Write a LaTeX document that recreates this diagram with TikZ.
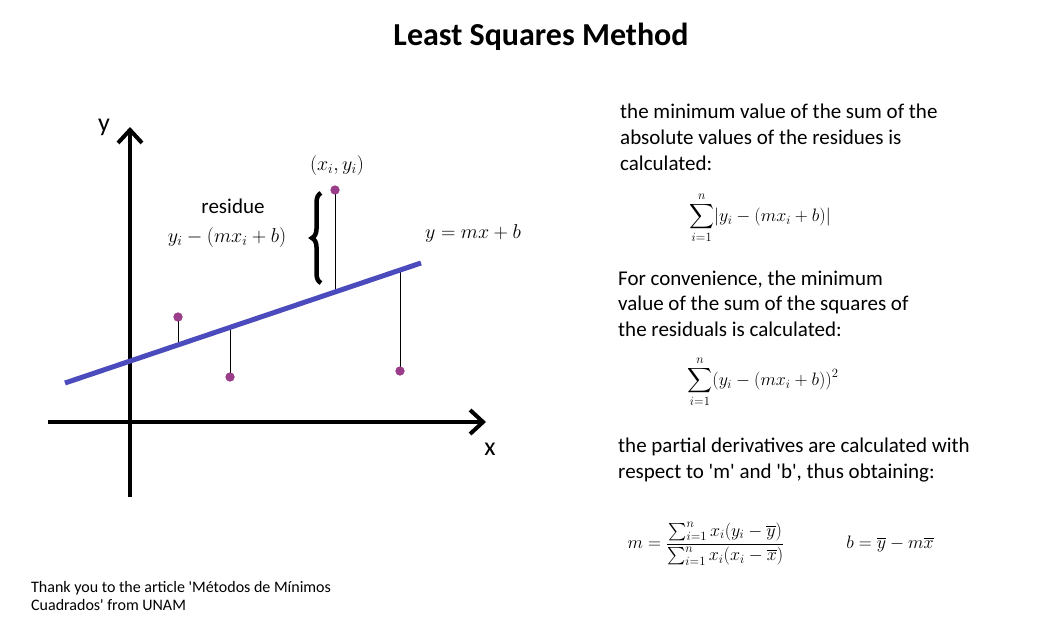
\RequirePackage{fix-cm}
\documentclass[tikz,border=0pt]{standalone}
\usepackage{amsmath}
\usepackage{fontspec}
\setmainfont{Carlito}
\usetikzlibrary{arrows.meta,decorations.pathreplacing}
\definecolor{fitblue}{HTML}{4B4BBE}
\definecolor{ptpurple}{HTML}{9A3E8C}
\tikzset{
  axis/.style={line width=4pt,-{Straight Barb[length=13pt,width=24pt,line width=4pt]}},
  body/.style={font=\fontsize{21}{25.6}\selectfont,inner sep=0pt,anchor=base west},
  lmath/.style={font=\fontsize{20}{24}\selectfont,inner sep=0pt},
  rmath/.style={font=\fontsize{18}{22}\selectfont,inner sep=0pt},
  datapt/.style={circle,fill=ptpurple,inner sep=0pt,minimum size=9pt},
  resid/.style={line width=0.8pt,black},
  fit/.style={line width=5pt,fitblue},
  foot/.style={font=\fontsize{16}{19}\selectfont,inner sep=0pt,anchor=base west},
}
\begin{document}
\begin{tikzpicture}[x=1pt,y=-1pt]
\useasboundingbox (0,0) rectangle (1054,634);
% title
\node[font=\fontsize{32}{38}\selectfont\bfseries,inner sep=0pt,anchor=base] (title) at (541,46) {Least Squares Method};
% axes
\coordinate (yb) at (130,497);
\coordinate (yt) at (130,127);
\coordinate (xl) at (48,422);
\coordinate (xr) at (486,422);
\draw[axis] (yb) -- (yt);
\draw[axis] (xl) -- (xr);
\node[font=\fontsize{26}{30}\selectfont,inner sep=0pt,anchor=base] (ylab) at (104,131) {y};
\node[font=\fontsize{26}{30}\selectfont,inner sep=0pt,anchor=base] (xlab) at (490,455) {x};
% fitted line
\coordinate (L1) at (65,383);
\coordinate (L2) at (421,263);
% residual segments
\node[datapt] (p1) at (178,317) {};
\node[datapt] (p2) at (230,377) {};
\node[datapt] (p3) at (335,190) {};
\node[datapt] (p4) at (400,371) {};
\coordinate (q1) at (178,344.9);
\coordinate (q2) at (230,327.4);
\coordinate (q3) at (335,292.0);
\coordinate (q4) at (400,270.1);
\draw[resid] (p1.center) -- (q1);
\draw[resid] (p2.center) -- (q2);
\draw[resid] (p3.center) -- (q3);
\draw[resid] (p4.center) -- (q4);
\draw[fit] (L1) -- (L2);
\node[datapt] at (p1) {};
\node[datapt] at (p2) {};
\node[datapt] at (p3) {};
\node[datapt] at (p4) {};
% labels
\node[lmath] (xy) at (337,165) {$(x_i,y_i)$};
\node[body,anchor=base] (res) at (233,213) {residue};
\node[lmath] (resf) at (227,237) {$y_i-(mx_i+b)$};
\node[lmath] (eq) at (473,233) {$y=mx+b$};
% brace
\coordinate (b1) at (321,283);
\coordinate (b2) at (321,193);
\draw[line width=4.5pt,decorate,decoration={brace,amplitude=9pt}] (b1) -- (b2);
% right text
\node[body] (a1) at (620,118) {the minimum value of the sum of the};
\node[body] (a2) at (620,144) {absolute values of the residues is};
\node[body] (a3) at (620,170) {calculated:};
\node[rmath] (f1) at (760,218) {$\displaystyle\sum_{i=1}^{n}\lvert y_i-(mx_i+b)\rvert$};
\node[body] (c1) at (618,285) {For convenience, the minimum};
\node[body] (c2) at (618,310) {value of the sum of the squares of};
\node[body] (c3) at (618,336) {the residuals is calculated:};
\node[rmath] (f2) at (763,382) {$\displaystyle\sum_{i=1}^{n}(y_i-(mx_i+b))^2$};
\node[body] (d1) at (618,452) {the partial derivatives are calculated with};
\node[body] (d2) at (618,478) {respect to \textquotesingle m\textquotesingle{} and \textquotesingle b\textquotesingle, thus obtaining:};
\node[rmath] (fm) at (706,544) {$m=\dfrac{\sum_{i=1}^{n}x_i(y_i-\overline{y})}{\sum_{i=1}^{n}x_i(x_i-\overline{x})}$};
\node[rmath] (fb) at (890,544) {$b=\overline{y}-m\overline{x}$};
% footer
\node[foot] (t1) at (31,592) {Thank you to the article \textquotesingle Métodos de Mínimos};
\node[foot] (t2) at (31,610) {Cuadrados\textquotesingle{} from UNAM};
\end{tikzpicture}
\end{document}
